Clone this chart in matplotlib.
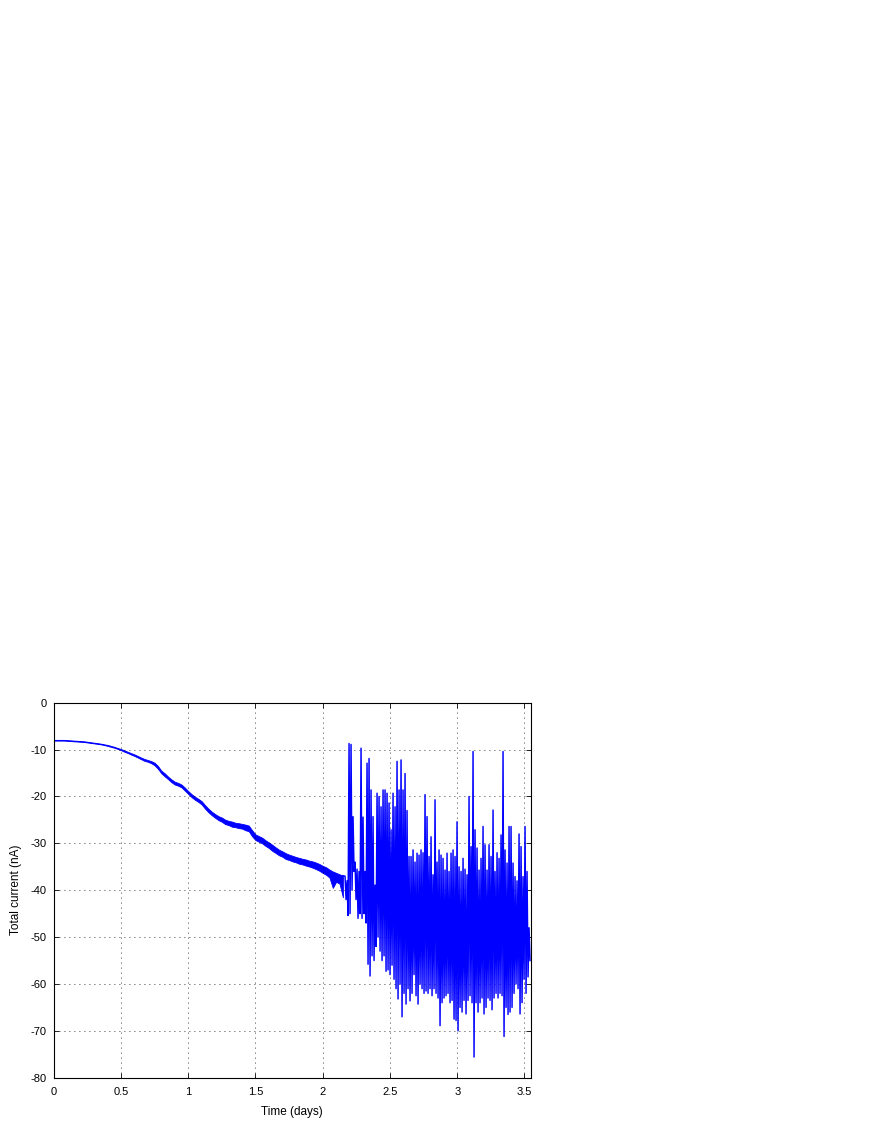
import numpy as np
import matplotlib
matplotlib.use("Agg")
import matplotlib.pyplot as plt

# ---- Data ----
# Smooth/drifting part: sampled every 0.025 days, upper and lower edge of the trace
smooth_t0, smooth_t1 = 0.0, 2.15
smooth_hi = [-7.92, -7.92, -7.92, -7.92, -7.97, -8.02, -8.07, -8.12, -8.17, -8.22,
             -8.32, -8.42, -8.52, -8.62, -8.72, -8.87, -9.0, -9.2, -9.4, -9.65,
             -9.88, -10.15, -10.45, -10.75, -11.02, -11.35, -11.7, -12.0, -12.22, -12.45,
             -12.8, -13.5, -14.5, -15.05, -15.75, -16.35, -16.85, -17.1, -17.45, -18.1,
             -18.85, -19.5, -20.05, -20.5, -21.0, -21.85, -22.6, -23.25, -23.75, -24.2,
             -24.5, -24.95, -25.2, -25.35, -25.6, -25.7, -25.85, -26.0, -26.2, -27.2,
             -28.1, -28.45, -28.8, -29.35, -29.8, -30.3, -30.85, -31.35, -31.7, -32.1,
             -32.4, -32.65, -32.9, -33.1, -33.3, -33.45, -33.7, -33.85, -34.1, -34.4,
             -34.8, -35.1, -35.6, -36.0, -36.3, -36.6, -36.9]
smooth_lo = [-8.08, -8.08, -8.08, -8.08, -8.13, -8.18, -8.23, -8.28, -8.33, -8.38,
             -8.48, -8.58, -8.68, -8.78, -8.88, -9.03, -9.2, -9.4, -9.6, -9.85,
             -10.12, -10.45, -10.72, -11.05, -11.35, -11.7, -12.05, -12.4, -12.6, -12.9,
             -13.35, -14.1, -15.05, -15.7, -16.3, -16.95, -17.45, -17.7, -18.05, -18.75,
             -19.45, -20.15, -20.7, -21.15, -21.7, -22.6, -23.35, -24.0, -24.55, -25.05,
             -25.4, -25.9, -26.1, -26.45, -26.55, -26.75, -26.85, -27.2, -27.4, -28.5,
             -29.3, -29.65, -30.0, -30.55, -31.0, -31.6, -32.05, -32.55, -32.85, -33.35,
             -33.55, -33.85, -34.05, -34.35, -34.5, -34.75, -34.95, -35.2, -35.5, -35.85,
             -36.3, -36.7, -37.3, -39.5, -38.2, -38.6, -41.5]

# Noisy part: sampled every ~0.0149 days, column maximum and minimum
noisy_t0, noisy_t1 = 2.166, 3.534
noisy_hi = [-37, -38, -8.7, -8.9, -24.3, -34, -35.5, -36, -9.7, -24.4,
            -36, -12.9, -11.9, -18.6, -24.3, -38.9, -19.3, -20, -22.2, -18.6,
            -18.6, -19.3, -21.4, -27.1, -19.3, -22.2, -12.5, -18.6, -12.2, -18.6,
            -15.1, -23, -32.8, -32.8, -31.4, -34, -32.1, -32.5, -31.4, -32,
            -19.6, -24.3, -32.8, -28.6, -36.7, -20.7, -34, -31.4, -32.5, -33.2,
            -35.7, -32.1, -36, -32.1, -31.4, -32.8, -25.4, -35, -36, -33.2,
            -35.5, -36.7, -20, -30.7, -10.4, -27.1, -31, -35.7, -33.2, -26.4,
            -30.3, -35.7, -30.3, -32.8, -22.9, -36, -32, -33.2, -28.2, -10.4,
            -31.4, -34.2, -26.4, -26.4, -34.2, -37.1, -38, -28, -30.7, -37.1,
            -26.4, -36, -48]
noisy_lo = [-42, -45.4, -45, -40, -36, -42, -46, -45, -46, -45,
            -47, -55.8, -58.3, -54, -55, -52, -50, -53, -55, -54,
            -57.3, -57, -58, -56, -59, -61, -63.2, -60, -67, -62,
            -64.3, -61, -63.6, -62, -58, -62.5, -64.3, -60, -61, -62,
            -61.5, -62, -61, -62.5, -61, -62, -63, -68.9, -64, -63,
            -62.5, -62, -64, -63.5, -67.5, -67.8, -70, -65, -66, -63.5,
            -66.4, -63.5, -62.5, -64, -75.6, -64, -66, -64, -63, -66.4,
            -65, -63, -63.5, -65.5, -63, -62, -63, -62, -62.5, -71.2,
            -65, -66.5, -66, -65, -62, -60, -61, -66.4, -64, -59,
            -62, -58.5, -55]

x_ticks = [0, 0.5, 1, 1.5, 2, 2.5, 3, 3.5]
x_ticklabels = ["0", "0.5", "1", "1.5", "2", "2.5", "3", "3.5"]
y_ticks = [0, -10, -20, -30, -40, -50, -60, -70, -80]
y_ticklabels = ["0", "-10", "-20", "-30", "-40", "-50", "-60", "-70", "-80"]
x_label = "Time (days)"
y_label = "Total current (nA)"

BLUE = (0, 0, 1)


def zigzag(t0, t1, hi, lo):
    t = np.linspace(t0, t1, len(hi))
    half = (t[1] - t[0]) / 2.0
    tt = np.empty(2 * len(hi))
    vv = np.empty(2 * len(hi))
    tt[0::2] = t
    tt[1::2] = t + half
    vv[0::2] = hi
    vv[1::2] = lo
    return tt, vv


plt.rcParams['font.family'] = ['Liberation Sans', 'DejaVu Sans']

fig = plt.figure(figsize=(8.72, 11.28), dpi=100)
ax = fig.add_axes([0.0616, 0.0446, 0.5468, 0.3324])

# smooth part: band between upper and lower edge of the trace
t_s = np.linspace(smooth_t0, smooth_t1, len(smooth_hi))
ax.fill_between(t_s, smooth_lo, smooth_hi, color=BLUE, linewidth=0.6,
                edgecolor=BLUE)

# noisy part: dense zig-zag between column max and min
tn, vn = zigzag(noisy_t0, noisy_t1, noisy_hi, noisy_lo)
tn = np.concatenate([[t_s[-1]], tn])
vn = np.concatenate([[smooth_hi[-1]], vn])
ax.plot(tn, vn, color=BLUE, linewidth=1.05, antialiased=True)

ax.set_xlim(0, 3.545)
ax.set_ylim(-80, 0)
ax.set_xticks(x_ticks)
ax.set_xticklabels(x_ticklabels)
ax.set_yticks(y_ticks)
ax.set_yticklabels(y_ticklabels)

ax.grid(True, color='black', linestyle=(0, (1, 5)), linewidth=0.6)
ax.tick_params(direction='in', top=True, right=True, length=3.5, width=0.6,
               labelsize=8, colors='black')
ax.tick_params(axis='x', pad=7)
ax.tick_params(axis='y', pad=5)
for s in ax.spines.values():
    s.set_linewidth(0.8)
    s.set_color('black')

ax.set_xlabel(x_label, fontsize=8.5, labelpad=6)
ax.set_ylabel(y_label, fontsize=8.5, labelpad=6)

fig.savefig("out.png", dpi=100, facecolor='white')
